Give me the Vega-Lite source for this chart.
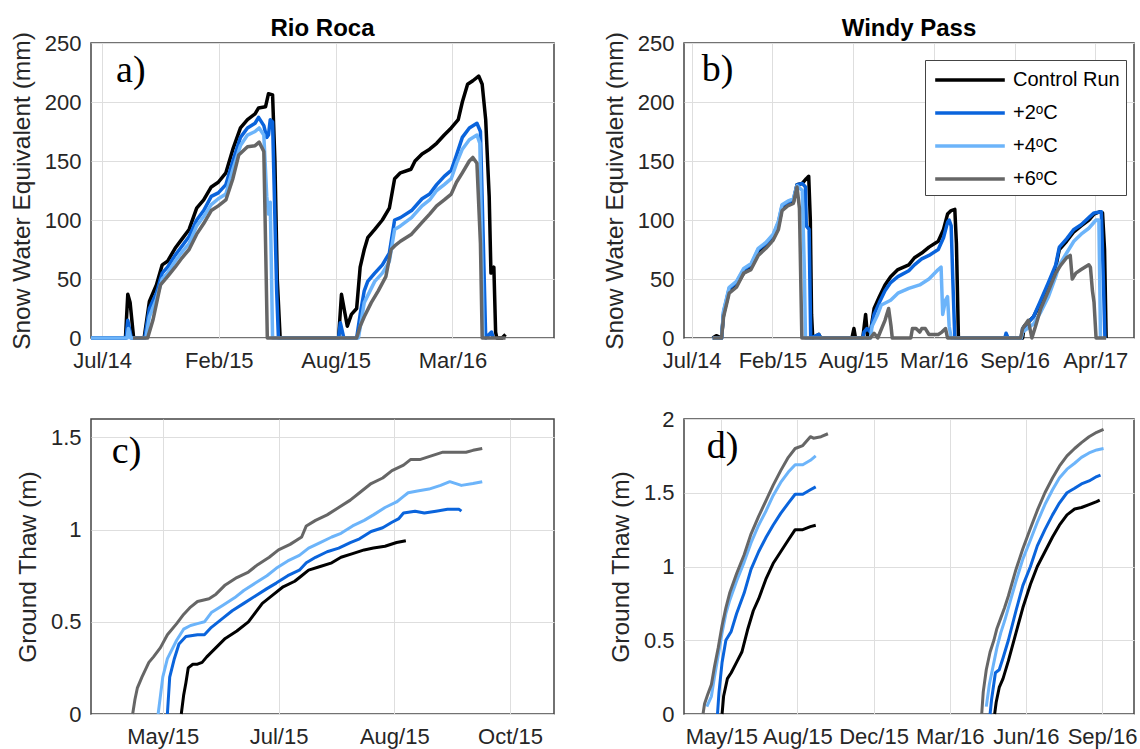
{
  "$schema": "https://vega.github.io/schema/vega-lite/v6.json",
  "background": "white",
  "padding": {"left": 8, "top": 15, "right": 2, "bottom": 2},
  "config": {
    "font": "Liberation Sans",
    "view": {"stroke": "#444444", "strokeWidth": 1.5},
    "axis": {"labelFontSize": 22, "labelColor": "#262626", "titleFontSize": 24.5, "titleColor": "#262626", "titleFontWeight": "normal", "grid": true, "gridColor": "#dedede", "gridWidth": 1, "domain": false, "ticks": false, "labelFlush": false, "labelOverlap": false},
    "axisX": {"labelPadding": 12},
    "axisY": {"labelPadding": 10, "titlePadding": 10},
    "title": {"fontSize": 24, "fontWeight": "bold", "color": "#000000", "offset": -9},
    "line": {"strokeWidth": 3.5, "strokeJoin": "round"}
  },
  "datasets": {
    "a": [
      {"s":"Control Run","d":"2014-07-01","v":0},{"s":"Control Run","d":"2014-08-29","v":0},{"s":"Control Run","d":"2014-09-02","v":37},{"s":"Control Run","d":"2014-09-06","v":30},{"s":"Control Run","d":"2014-09-12","v":0},{"s":"Control Run","d":"2014-09-30","v":0},{"s":"Control Run","d":"2014-10-09","v":31},{"s":"Control Run","d":"2014-10-21","v":45},{"s":"Control Run","d":"2014-10-31","v":62},{"s":"Control Run","d":"2014-11-09","v":65},{"s":"Control Run","d":"2014-11-22","v":76},{"s":"Control Run","d":"2014-12-04","v":84},{"s":"Control Run","d":"2014-12-16","v":92},{"s":"Control Run","d":"2014-12-29","v":110},{"s":"Control Run","d":"2015-01-10","v":117},{"s":"Control Run","d":"2015-01-23","v":128},{"s":"Control Run","d":"2015-02-04","v":132},{"s":"Control Run","d":"2015-02-17","v":140},{"s":"Control Run","d":"2015-03-01","v":160},{"s":"Control Run","d":"2015-03-14","v":178},{"s":"Control Run","d":"2015-03-26","v":185},{"s":"Control Run","d":"2015-04-08","v":190},{"s":"Control Run","d":"2015-04-14","v":195},{"s":"Control Run","d":"2015-04-26","v":196},{"s":"Control Run","d":"2015-05-01","v":207},{"s":"Control Run","d":"2015-05-08","v":206},{"s":"Control Run","d":"2015-05-12","v":150},{"s":"Control Run","d":"2015-05-16","v":50},{"s":"Control Run","d":"2015-05-21","v":0},{"s":"Control Run","d":"2015-08-29","v":0},{"s":"Control Run","d":"2015-09-03","v":37},{"s":"Control Run","d":"2015-09-13","v":10},{"s":"Control Run","d":"2015-09-20","v":20},{"s":"Control Run","d":"2015-09-29","v":25},{"s":"Control Run","d":"2015-10-05","v":60},{"s":"Control Run","d":"2015-10-12","v":75},{"s":"Control Run","d":"2015-10-18","v":85},{"s":"Control Run","d":"2015-10-30","v":92},{"s":"Control Run","d":"2015-11-12","v":100},{"s":"Control Run","d":"2015-11-24","v":110},{"s":"Control Run","d":"2015-12-03","v":135},{"s":"Control Run","d":"2015-12-13","v":140},{"s":"Control Run","d":"2015-12-31","v":143},{"s":"Control Run","d":"2016-01-07","v":150},{"s":"Control Run","d":"2016-01-19","v":156},{"s":"Control Run","d":"2016-02-01","v":160},{"s":"Control Run","d":"2016-02-13","v":165},{"s":"Control Run","d":"2016-02-26","v":172},{"s":"Control Run","d":"2016-03-09","v":178},{"s":"Control Run","d":"2016-03-21","v":185},{"s":"Control Run","d":"2016-03-28","v":200},{"s":"Control Run","d":"2016-04-06","v":215},{"s":"Control Run","d":"2016-04-15","v":218},{"s":"Control Run","d":"2016-04-25","v":222},{"s":"Control Run","d":"2016-05-01","v":215},{"s":"Control Run","d":"2016-05-07","v":185},{"s":"Control Run","d":"2016-05-13","v":120},{"s":"Control Run","d":"2016-05-16","v":55},{"s":"Control Run","d":"2016-05-21","v":60},{"s":"Control Run","d":"2016-05-24","v":5},{"s":"Control Run","d":"2016-05-26","v":0},{"s":"Control Run","d":"2016-06-04","v":0},{"s":"Control Run","d":"2016-06-10","v":3},
      {"s":"+2ᵒC","d":"2014-07-01","v":0},{"s":"+2ᵒC","d":"2014-08-30","v":0},{"s":"+2ᵒC","d":"2014-09-02","v":15},{"s":"+2ᵒC","d":"2014-09-08","v":0},{"s":"+2ᵒC","d":"2014-10-01","v":0},{"s":"+2ᵒC","d":"2014-10-09","v":25},{"s":"+2ᵒC","d":"2014-10-21","v":38},{"s":"+2ᵒC","d":"2014-10-31","v":55},{"s":"+2ᵒC","d":"2014-11-09","v":60},{"s":"+2ᵒC","d":"2014-11-22","v":70},{"s":"+2ᵒC","d":"2014-12-04","v":78},{"s":"+2ᵒC","d":"2014-12-16","v":86},{"s":"+2ᵒC","d":"2014-12-29","v":100},{"s":"+2ᵒC","d":"2015-01-10","v":108},{"s":"+2ᵒC","d":"2015-01-23","v":120},{"s":"+2ᵒC","d":"2015-02-04","v":123},{"s":"+2ᵒC","d":"2015-02-17","v":130},{"s":"+2ᵒC","d":"2015-03-01","v":150},{"s":"+2ᵒC","d":"2015-03-14","v":170},{"s":"+2ᵒC","d":"2015-03-26","v":178},{"s":"+2ᵒC","d":"2015-04-08","v":182},{"s":"+2ᵒC","d":"2015-04-14","v":187},{"s":"+2ᵒC","d":"2015-04-23","v":180},{"s":"+2ᵒC","d":"2015-04-28","v":170},{"s":"+2ᵒC","d":"2015-05-01","v":172},{"s":"+2ᵒC","d":"2015-05-04","v":185},{"s":"+2ᵒC","d":"2015-05-08","v":183},{"s":"+2ᵒC","d":"2015-05-15","v":40},{"s":"+2ᵒC","d":"2015-05-18","v":0},{"s":"+2ᵒC","d":"2015-08-29","v":0},{"s":"+2ᵒC","d":"2015-09-01","v":13},{"s":"+2ᵒC","d":"2015-09-07","v":0},{"s":"+2ᵒC","d":"2015-09-29","v":0},{"s":"+2ᵒC","d":"2015-10-05","v":20},{"s":"+2ᵒC","d":"2015-10-12","v":40},{"s":"+2ᵒC","d":"2015-10-18","v":48},{"s":"+2ᵒC","d":"2015-10-30","v":55},{"s":"+2ᵒC","d":"2015-11-12","v":62},{"s":"+2ᵒC","d":"2015-11-24","v":72},{"s":"+2ᵒC","d":"2015-12-03","v":100},{"s":"+2ᵒC","d":"2015-12-13","v":102},{"s":"+2ᵒC","d":"2016-01-01","v":108},{"s":"+2ᵒC","d":"2016-01-19","v":118},{"s":"+2ᵒC","d":"2016-02-01","v":122},{"s":"+2ᵒC","d":"2016-02-13","v":130},{"s":"+2ᵒC","d":"2016-02-26","v":137},{"s":"+2ᵒC","d":"2016-03-09","v":142},{"s":"+2ᵒC","d":"2016-03-18","v":155},{"s":"+2ᵒC","d":"2016-03-28","v":170},{"s":"+2ᵒC","d":"2016-04-09","v":178},{"s":"+2ᵒC","d":"2016-04-22","v":182},{"s":"+2ᵒC","d":"2016-04-28","v":175},{"s":"+2ᵒC","d":"2016-05-04","v":60},{"s":"+2ᵒC","d":"2016-05-07","v":0},{"s":"+2ᵒC","d":"2016-05-17","v":5},{"s":"+2ᵒC","d":"2016-05-20","v":0},
      {"s":"+4ᵒC","d":"2014-07-01","v":0},{"s":"+4ᵒC","d":"2014-09-01","v":0},{"s":"+4ᵒC","d":"2014-09-03","v":8},{"s":"+4ᵒC","d":"2014-09-07","v":0},{"s":"+4ᵒC","d":"2014-10-03","v":0},{"s":"+4ᵒC","d":"2014-10-09","v":18},{"s":"+4ᵒC","d":"2014-10-21","v":33},{"s":"+4ᵒC","d":"2014-10-31","v":50},{"s":"+4ᵒC","d":"2014-11-09","v":55},{"s":"+4ᵒC","d":"2014-11-22","v":65},{"s":"+4ᵒC","d":"2014-12-04","v":73},{"s":"+4ᵒC","d":"2014-12-16","v":80},{"s":"+4ᵒC","d":"2014-12-29","v":95},{"s":"+4ᵒC","d":"2015-01-10","v":103},{"s":"+4ᵒC","d":"2015-01-23","v":113},{"s":"+4ᵒC","d":"2015-02-04","v":118},{"s":"+4ᵒC","d":"2015-02-17","v":122},{"s":"+4ᵒC","d":"2015-03-01","v":143},{"s":"+4ᵒC","d":"2015-03-14","v":163},{"s":"+4ᵒC","d":"2015-03-26","v":172},{"s":"+4ᵒC","d":"2015-04-08","v":175},{"s":"+4ᵒC","d":"2015-04-15","v":178},{"s":"+4ᵒC","d":"2015-04-23","v":172},{"s":"+4ᵒC","d":"2015-04-28","v":120},{"s":"+4ᵒC","d":"2015-05-01","v":105},{"s":"+4ᵒC","d":"2015-05-04","v":115},{"s":"+4ᵒC","d":"2015-05-08","v":0},{"s":"+4ᵒC","d":"2015-08-29","v":0},{"s":"+4ᵒC","d":"2015-10-02","v":0},{"s":"+4ᵒC","d":"2015-10-12","v":30},{"s":"+4ᵒC","d":"2015-10-30","v":48},{"s":"+4ᵒC","d":"2015-11-12","v":55},{"s":"+4ᵒC","d":"2015-11-24","v":65},{"s":"+4ᵒC","d":"2015-12-03","v":92},{"s":"+4ᵒC","d":"2015-12-13","v":95},{"s":"+4ᵒC","d":"2016-01-01","v":102},{"s":"+4ᵒC","d":"2016-01-19","v":112},{"s":"+4ᵒC","d":"2016-02-01","v":117},{"s":"+4ᵒC","d":"2016-02-13","v":125},{"s":"+4ᵒC","d":"2016-02-26","v":130},{"s":"+4ᵒC","d":"2016-03-09","v":135},{"s":"+4ᵒC","d":"2016-03-18","v":148},{"s":"+4ᵒC","d":"2016-03-28","v":160},{"s":"+4ᵒC","d":"2016-04-09","v":168},{"s":"+4ᵒC","d":"2016-04-22","v":172},{"s":"+4ᵒC","d":"2016-04-27","v":165},{"s":"+4ᵒC","d":"2016-05-03","v":0},
      {"s":"+6ᵒC","d":"2014-09-11","v":0},{"s":"+6ᵒC","d":"2014-10-06","v":0},{"s":"+6ᵒC","d":"2014-10-15","v":15},{"s":"+6ᵒC","d":"2014-10-28","v":45},{"s":"+6ᵒC","d":"2014-11-09","v":52},{"s":"+6ᵒC","d":"2014-11-22","v":60},{"s":"+6ᵒC","d":"2014-12-04","v":68},{"s":"+6ᵒC","d":"2014-12-16","v":75},{"s":"+6ᵒC","d":"2014-12-29","v":88},{"s":"+6ᵒC","d":"2015-01-10","v":97},{"s":"+6ᵒC","d":"2015-01-23","v":108},{"s":"+6ᵒC","d":"2015-02-04","v":112},{"s":"+6ᵒC","d":"2015-02-17","v":117},{"s":"+6ᵒC","d":"2015-03-01","v":135},{"s":"+6ᵒC","d":"2015-03-11","v":155},{"s":"+6ᵒC","d":"2015-03-26","v":162},{"s":"+6ᵒC","d":"2015-04-08","v":163},{"s":"+6ᵒC","d":"2015-04-15","v":166},{"s":"+6ᵒC","d":"2015-04-23","v":158},{"s":"+6ᵒC","d":"2015-04-26","v":80},{"s":"+6ᵒC","d":"2015-04-29","v":0},{"s":"+6ᵒC","d":"2015-09-29","v":0},{"s":"+6ᵒC","d":"2015-10-05","v":10},{"s":"+6ᵒC","d":"2015-10-12","v":18},{"s":"+6ᵒC","d":"2015-10-24","v":30},{"s":"+6ᵒC","d":"2015-11-05","v":40},{"s":"+6ᵒC","d":"2015-11-18","v":52},{"s":"+6ᵒC","d":"2015-11-27","v":75},{"s":"+6ᵒC","d":"2015-12-03","v":78},{"s":"+6ᵒC","d":"2015-12-13","v":82},{"s":"+6ᵒC","d":"2016-01-01","v":88},{"s":"+6ᵒC","d":"2016-01-19","v":98},{"s":"+6ᵒC","d":"2016-02-01","v":105},{"s":"+6ᵒC","d":"2016-02-13","v":112},{"s":"+6ᵒC","d":"2016-02-26","v":117},{"s":"+6ᵒC","d":"2016-03-09","v":122},{"s":"+6ᵒC","d":"2016-03-18","v":132},{"s":"+6ᵒC","d":"2016-03-28","v":140},{"s":"+6ᵒC","d":"2016-04-09","v":150},{"s":"+6ᵒC","d":"2016-04-15","v":153},{"s":"+6ᵒC","d":"2016-04-22","v":148},{"s":"+6ᵒC","d":"2016-04-28","v":80},{"s":"+6ᵒC","d":"2016-05-01","v":0},{"s":"+6ᵒC","d":"2016-06-10","v":0}
    ],
    "b": [
      {"s":"Control Run","d":"2014-09-10","v":0},{"s":"Control Run","d":"2014-09-19","v":2},{"s":"Control Run","d":"2014-10-02","v":0},{"s":"Control Run","d":"2014-10-07","v":20},{"s":"Control Run","d":"2014-10-21","v":40},{"s":"Control Run","d":"2014-11-08","v":45},{"s":"Control Run","d":"2014-11-26","v":55},{"s":"Control Run","d":"2014-12-14","v":60},{"s":"Control Run","d":"2015-01-01","v":72},{"s":"Control Run","d":"2015-01-20","v":78},{"s":"Control Run","d":"2015-02-07","v":85},{"s":"Control Run","d":"2015-02-20","v":95},{"s":"Control Run","d":"2015-03-01","v":110},{"s":"Control Run","d":"2015-03-15","v":113},{"s":"Control Run","d":"2015-03-29","v":115},{"s":"Control Run","d":"2015-04-07","v":130},{"s":"Control Run","d":"2015-04-20","v":131},{"s":"Control Run","d":"2015-04-30","v":135},{"s":"Control Run","d":"2015-05-06","v":137},{"s":"Control Run","d":"2015-05-10","v":100},{"s":"Control Run","d":"2015-05-13","v":20},{"s":"Control Run","d":"2015-05-16","v":0},{"s":"Control Run","d":"2015-05-31","v":3},{"s":"Control Run","d":"2015-06-05","v":0},{"s":"Control Run","d":"2015-08-21","v":0},{"s":"Control Run","d":"2015-08-26","v":8},{"s":"Control Run","d":"2015-08-30","v":0},{"s":"Control Run","d":"2015-09-17","v":0},{"s":"Control Run","d":"2015-09-24","v":20},{"s":"Control Run","d":"2015-09-29","v":0},{"s":"Control Run","d":"2015-10-06","v":5},{"s":"Control Run","d":"2015-10-15","v":25},{"s":"Control Run","d":"2015-10-28","v":35},{"s":"Control Run","d":"2015-11-11","v":45},{"s":"Control Run","d":"2015-11-25","v":52},{"s":"Control Run","d":"2015-12-13","v":58},{"s":"Control Run","d":"2016-01-09","v":62},{"s":"Control Run","d":"2016-01-23","v":68},{"s":"Control Run","d":"2016-02-10","v":72},{"s":"Control Run","d":"2016-02-28","v":77},{"s":"Control Run","d":"2016-03-22","v":82},{"s":"Control Run","d":"2016-04-04","v":92},{"s":"Control Run","d":"2016-04-14","v":105},{"s":"Control Run","d":"2016-04-23","v":108},{"s":"Control Run","d":"2016-05-02","v":109},{"s":"Control Run","d":"2016-05-06","v":80},{"s":"Control Run","d":"2016-05-11","v":0},{"s":"Control Run","d":"2016-10-17","v":0},{"s":"Control Run","d":"2016-10-21","v":10},{"s":"Control Run","d":"2016-11-13","v":18},{"s":"Control Run","d":"2016-12-01","v":30},{"s":"Control Run","d":"2016-12-20","v":45},{"s":"Control Run","d":"2017-01-07","v":60},{"s":"Control Run","d":"2017-01-16","v":75},{"s":"Control Run","d":"2017-02-03","v":82},{"s":"Control Run","d":"2017-02-21","v":90},{"s":"Control Run","d":"2017-03-11","v":95},{"s":"Control Run","d":"2017-03-30","v":100},{"s":"Control Run","d":"2017-04-12","v":105},{"s":"Control Run","d":"2017-04-26","v":107},{"s":"Control Run","d":"2017-05-03","v":106},{"s":"Control Run","d":"2017-05-08","v":75},{"s":"Control Run","d":"2017-05-12","v":0},
      {"s":"+2ᵒC","d":"2014-09-10","v":0},{"s":"+2ᵒC","d":"2014-10-02","v":0},{"s":"+2ᵒC","d":"2014-10-07","v":22},{"s":"+2ᵒC","d":"2014-10-21","v":42},{"s":"+2ᵒC","d":"2014-11-08","v":47},{"s":"+2ᵒC","d":"2014-11-26","v":58},{"s":"+2ᵒC","d":"2014-12-14","v":62},{"s":"+2ᵒC","d":"2015-01-01","v":75},{"s":"+2ᵒC","d":"2015-01-20","v":80},{"s":"+2ᵒC","d":"2015-02-07","v":87},{"s":"+2ᵒC","d":"2015-02-20","v":98},{"s":"+2ᵒC","d":"2015-03-01","v":112},{"s":"+2ᵒC","d":"2015-03-15","v":115},{"s":"+2ᵒC","d":"2015-03-29","v":117},{"s":"+2ᵒC","d":"2015-04-07","v":130},{"s":"+2ᵒC","d":"2015-04-20","v":131},{"s":"+2ᵒC","d":"2015-04-28","v":128},{"s":"+2ᵒC","d":"2015-04-30","v":95},{"s":"+2ᵒC","d":"2015-05-07","v":92},{"s":"+2ᵒC","d":"2015-05-11","v":0},{"s":"+2ᵒC","d":"2015-05-31","v":3},{"s":"+2ᵒC","d":"2015-06-05","v":0},{"s":"+2ᵒC","d":"2015-09-17","v":0},{"s":"+2ᵒC","d":"2015-09-20","v":5},{"s":"+2ᵒC","d":"2015-09-27","v":8},{"s":"+2ᵒC","d":"2015-10-06","v":5},{"s":"+2ᵒC","d":"2015-10-15","v":20},{"s":"+2ᵒC","d":"2015-10-28","v":30},{"s":"+2ᵒC","d":"2015-11-11","v":40},{"s":"+2ᵒC","d":"2015-11-25","v":47},{"s":"+2ᵒC","d":"2015-12-13","v":52},{"s":"+2ᵒC","d":"2016-01-09","v":57},{"s":"+2ᵒC","d":"2016-01-23","v":62},{"s":"+2ᵒC","d":"2016-02-10","v":67},{"s":"+2ᵒC","d":"2016-02-28","v":70},{"s":"+2ᵒC","d":"2016-03-22","v":75},{"s":"+2ᵒC","d":"2016-04-04","v":85},{"s":"+2ᵒC","d":"2016-04-14","v":98},{"s":"+2ᵒC","d":"2016-04-18","v":100},{"s":"+2ᵒC","d":"2016-04-23","v":95},{"s":"+2ᵒC","d":"2016-04-27","v":50},{"s":"+2ᵒC","d":"2016-05-02","v":0},{"s":"+2ᵒC","d":"2016-09-03","v":0},{"s":"+2ᵒC","d":"2016-09-06","v":4},{"s":"+2ᵒC","d":"2016-09-11","v":0},{"s":"+2ᵒC","d":"2016-10-13","v":0},{"s":"+2ᵒC","d":"2016-10-17","v":8},{"s":"+2ᵒC","d":"2016-11-13","v":18},{"s":"+2ᵒC","d":"2016-12-01","v":32},{"s":"+2ᵒC","d":"2016-12-20","v":47},{"s":"+2ᵒC","d":"2017-01-07","v":62},{"s":"+2ᵒC","d":"2017-01-16","v":77},{"s":"+2ᵒC","d":"2017-02-03","v":84},{"s":"+2ᵒC","d":"2017-02-21","v":92},{"s":"+2ᵒC","d":"2017-03-11","v":96},{"s":"+2ᵒC","d":"2017-03-30","v":102},{"s":"+2ᵒC","d":"2017-04-12","v":106},{"s":"+2ᵒC","d":"2017-04-30","v":107},{"s":"+2ᵒC","d":"2017-05-05","v":50},{"s":"+2ᵒC","d":"2017-05-09","v":0},
      {"s":"+4ᵒC","d":"2014-09-10","v":0},{"s":"+4ᵒC","d":"2014-10-02","v":0},{"s":"+4ᵒC","d":"2014-10-07","v":23},{"s":"+4ᵒC","d":"2014-10-21","v":43},{"s":"+4ᵒC","d":"2014-11-08","v":48},{"s":"+4ᵒC","d":"2014-11-26","v":59},{"s":"+4ᵒC","d":"2014-12-14","v":63},{"s":"+4ᵒC","d":"2015-01-01","v":76},{"s":"+4ᵒC","d":"2015-01-20","v":81},{"s":"+4ᵒC","d":"2015-02-07","v":88},{"s":"+4ᵒC","d":"2015-02-20","v":99},{"s":"+4ᵒC","d":"2015-03-01","v":113},{"s":"+4ᵒC","d":"2015-03-15","v":116},{"s":"+4ᵒC","d":"2015-03-29","v":118},{"s":"+4ᵒC","d":"2015-04-07","v":129},{"s":"+4ᵒC","d":"2015-04-11","v":128},{"s":"+4ᵒC","d":"2015-04-20","v":125},{"s":"+4ᵒC","d":"2015-04-25","v":60},{"s":"+4ᵒC","d":"2015-04-28","v":0},{"s":"+4ᵒC","d":"2015-10-06","v":0},{"s":"+4ᵒC","d":"2015-10-10","v":10},{"s":"+4ᵒC","d":"2015-10-24","v":20},{"s":"+4ᵒC","d":"2015-11-02","v":28},{"s":"+4ᵒC","d":"2015-11-25","v":32},{"s":"+4ᵒC","d":"2015-12-13","v":38},{"s":"+4ᵒC","d":"2016-01-09","v":42},{"s":"+4ᵒC","d":"2016-02-05","v":45},{"s":"+4ᵒC","d":"2016-02-28","v":50},{"s":"+4ᵒC","d":"2016-03-22","v":58},{"s":"+4ᵒC","d":"2016-03-29","v":60},{"s":"+4ᵒC","d":"2016-04-02","v":20},{"s":"+4ᵒC","d":"2016-04-09","v":32},{"s":"+4ᵒC","d":"2016-04-14","v":35},{"s":"+4ᵒC","d":"2016-04-18","v":10},{"s":"+4ᵒC","d":"2016-04-23","v":0},{"s":"+4ᵒC","d":"2016-10-14","v":0},{"s":"+4ᵒC","d":"2016-10-17","v":5},{"s":"+4ᵒC","d":"2016-11-13","v":12},{"s":"+4ᵒC","d":"2016-12-01","v":22},{"s":"+4ᵒC","d":"2016-12-20","v":35},{"s":"+4ᵒC","d":"2017-01-07","v":52},{"s":"+4ᵒC","d":"2017-01-16","v":62},{"s":"+4ᵒC","d":"2017-02-03","v":72},{"s":"+4ᵒC","d":"2017-02-21","v":82},{"s":"+4ᵒC","d":"2017-03-11","v":88},{"s":"+4ᵒC","d":"2017-03-30","v":93},{"s":"+4ᵒC","d":"2017-04-17","v":100},{"s":"+4ᵒC","d":"2017-04-24","v":100},{"s":"+4ᵒC","d":"2017-04-28","v":0},
      {"s":"+6ᵒC","d":"2014-09-10","v":0},{"s":"+6ᵒC","d":"2014-10-02","v":0},{"s":"+6ᵒC","d":"2014-10-07","v":18},{"s":"+6ᵒC","d":"2014-10-21","v":38},{"s":"+6ᵒC","d":"2014-11-08","v":43},{"s":"+6ᵒC","d":"2014-11-26","v":55},{"s":"+6ᵒC","d":"2014-12-14","v":58},{"s":"+6ᵒC","d":"2015-01-01","v":70},{"s":"+6ᵒC","d":"2015-01-20","v":76},{"s":"+6ᵒC","d":"2015-02-07","v":83},{"s":"+6ᵒC","d":"2015-02-20","v":92},{"s":"+6ᵒC","d":"2015-03-01","v":108},{"s":"+6ᵒC","d":"2015-03-15","v":112},{"s":"+6ᵒC","d":"2015-03-29","v":114},{"s":"+6ᵒC","d":"2015-04-07","v":128},{"s":"+6ᵒC","d":"2015-04-13","v":110},{"s":"+6ᵒC","d":"2015-04-19","v":0},{"s":"+6ᵒC","d":"2015-10-06","v":0},{"s":"+6ᵒC","d":"2015-10-15","v":4},{"s":"+6ᵒC","d":"2015-10-24","v":0},{"s":"+6ᵒC","d":"2015-11-11","v":15},{"s":"+6ᵒC","d":"2015-11-20","v":25},{"s":"+6ᵒC","d":"2015-11-26","v":10},{"s":"+6ᵒC","d":"2015-11-29","v":0},{"s":"+6ᵒC","d":"2016-01-14","v":0},{"s":"+6ᵒC","d":"2016-01-18","v":8},{"s":"+6ᵒC","d":"2016-01-27","v":8},{"s":"+6ᵒC","d":"2016-02-05","v":5},{"s":"+6ᵒC","d":"2016-02-10","v":8},{"s":"+6ᵒC","d":"2016-02-19","v":8},{"s":"+6ᵒC","d":"2016-02-28","v":3},{"s":"+6ᵒC","d":"2016-03-22","v":3},{"s":"+6ᵒC","d":"2016-03-31","v":5},{"s":"+6ᵒC","d":"2016-04-09","v":8},{"s":"+6ᵒC","d":"2016-04-14","v":0},{"s":"+6ᵒC","d":"2016-10-12","v":0},{"s":"+6ᵒC","d":"2016-10-17","v":8},{"s":"+6ᵒC","d":"2016-10-31","v":15},{"s":"+6ᵒC","d":"2016-11-09","v":0},{"s":"+6ᵒC","d":"2016-11-18","v":10},{"s":"+6ᵒC","d":"2016-12-01","v":25},{"s":"+6ᵒC","d":"2016-12-20","v":40},{"s":"+6ᵒC","d":"2017-01-07","v":55},{"s":"+6ᵒC","d":"2017-01-20","v":62},{"s":"+6ᵒC","d":"2017-02-03","v":68},{"s":"+6ᵒC","d":"2017-02-12","v":70},{"s":"+6ᵒC","d":"2017-02-17","v":50},{"s":"+6ᵒC","d":"2017-02-26","v":55},{"s":"+6ᵒC","d":"2017-03-11","v":58},{"s":"+6ᵒC","d":"2017-03-30","v":62},{"s":"+6ᵒC","d":"2017-04-03","v":60},{"s":"+6ᵒC","d":"2017-04-08","v":40},{"s":"+6ᵒC","d":"2017-04-12","v":30},{"s":"+6ᵒC","d":"2017-04-17","v":0},{"s":"+6ᵒC","d":"2017-05-12","v":0}
    ],
    "c": [
      {"s":"Control Run","d":"2015-05-24","v":0},{"s":"Control Run","d":"2015-05-25","v":0.1},{"s":"Control Run","d":"2015-05-26","v":0.17},{"s":"Control Run","d":"2015-05-27","v":0.25},{"s":"Control Run","d":"2015-05-29","v":0.27},{"s":"Control Run","d":"2015-05-31","v":0.27},{"s":"Control Run","d":"2015-06-02","v":0.28},{"s":"Control Run","d":"2015-06-04","v":0.31},{"s":"Control Run","d":"2015-06-08","v":0.36},{"s":"Control Run","d":"2015-06-12","v":0.41},{"s":"Control Run","d":"2015-06-17","v":0.45},{"s":"Control Run","d":"2015-06-22","v":0.5},{"s":"Control Run","d":"2015-06-25","v":0.55},{"s":"Control Run","d":"2015-06-28","v":0.6},{"s":"Control Run","d":"2015-07-03","v":0.65},{"s":"Control Run","d":"2015-07-07","v":0.69},{"s":"Control Run","d":"2015-07-12","v":0.72},{"s":"Control Run","d":"2015-07-15","v":0.75},{"s":"Control Run","d":"2015-07-18","v":0.78},{"s":"Control Run","d":"2015-07-23","v":0.8},{"s":"Control Run","d":"2015-07-28","v":0.82},{"s":"Control Run","d":"2015-08-01","v":0.85},{"s":"Control Run","d":"2015-08-06","v":0.87},{"s":"Control Run","d":"2015-08-11","v":0.89},{"s":"Control Run","d":"2015-08-15","v":0.9},{"s":"Control Run","d":"2015-08-20","v":0.91},{"s":"Control Run","d":"2015-08-25","v":0.93},{"s":"Control Run","d":"2015-08-29","v":0.94},
      {"s":"+2ᵒC","d":"2015-05-18","v":0},{"s":"+2ᵒC","d":"2015-05-19","v":0.2},{"s":"+2ᵒC","d":"2015-05-21","v":0.3},{"s":"+2ᵒC","d":"2015-05-23","v":0.38},{"s":"+2ᵒC","d":"2015-05-26","v":0.42},{"s":"+2ᵒC","d":"2015-05-31","v":0.43},{"s":"+2ᵒC","d":"2015-06-03","v":0.43},{"s":"+2ᵒC","d":"2015-06-06","v":0.47},{"s":"+2ᵒC","d":"2015-06-11","v":0.52},{"s":"+2ᵒC","d":"2015-06-15","v":0.56},{"s":"+2ᵒC","d":"2015-06-20","v":0.6},{"s":"+2ᵒC","d":"2015-06-25","v":0.64},{"s":"+2ᵒC","d":"2015-06-30","v":0.68},{"s":"+2ᵒC","d":"2015-07-04","v":0.71},{"s":"+2ᵒC","d":"2015-07-09","v":0.75},{"s":"+2ᵒC","d":"2015-07-14","v":0.78},{"s":"+2ᵒC","d":"2015-07-17","v":0.82},{"s":"+2ᵒC","d":"2015-07-21","v":0.85},{"s":"+2ᵒC","d":"2015-07-26","v":0.88},{"s":"+2ᵒC","d":"2015-07-31","v":0.9},{"s":"+2ᵒC","d":"2015-08-05","v":0.93},{"s":"+2ᵒC","d":"2015-08-09","v":0.95},{"s":"+2ᵒC","d":"2015-08-14","v":0.99},{"s":"+2ᵒC","d":"2015-08-19","v":1.01},{"s":"+2ᵒC","d":"2015-08-23","v":1.04},{"s":"+2ᵒC","d":"2015-08-26","v":1.06},{"s":"+2ᵒC","d":"2015-08-28","v":1.09},{"s":"+2ᵒC","d":"2015-09-02","v":1.1},{"s":"+2ᵒC","d":"2015-09-06","v":1.09},{"s":"+2ᵒC","d":"2015-09-11","v":1.1},{"s":"+2ᵒC","d":"2015-09-16","v":1.11},{"s":"+2ᵒC","d":"2015-09-21","v":1.11},{"s":"+2ᵒC","d":"2015-09-22","v":1.1},
      {"s":"+4ᵒC","d":"2015-05-14","v":0},{"s":"+4ᵒC","d":"2015-05-15","v":0.1},{"s":"+4ᵒC","d":"2015-05-16","v":0.2},{"s":"+4ᵒC","d":"2015-05-18","v":0.3},{"s":"+4ᵒC","d":"2015-05-22","v":0.4},{"s":"+4ᵒC","d":"2015-05-25","v":0.46},{"s":"+4ᵒC","d":"2015-05-28","v":0.48},{"s":"+4ᵒC","d":"2015-05-31","v":0.49},{"s":"+4ᵒC","d":"2015-06-03","v":0.5},{"s":"+4ᵒC","d":"2015-06-06","v":0.55},{"s":"+4ᵒC","d":"2015-06-11","v":0.59},{"s":"+4ᵒC","d":"2015-06-16","v":0.63},{"s":"+4ᵒC","d":"2015-06-20","v":0.67},{"s":"+4ᵒC","d":"2015-06-25","v":0.71},{"s":"+4ᵒC","d":"2015-06-30","v":0.75},{"s":"+4ᵒC","d":"2015-07-04","v":0.79},{"s":"+4ᵒC","d":"2015-07-09","v":0.83},{"s":"+4ᵒC","d":"2015-07-14","v":0.86},{"s":"+4ᵒC","d":"2015-07-18","v":0.9},{"s":"+4ᵒC","d":"2015-07-23","v":0.93},{"s":"+4ᵒC","d":"2015-07-28","v":0.96},{"s":"+4ᵒC","d":"2015-08-01","v":0.98},{"s":"+4ᵒC","d":"2015-08-06","v":1.02},{"s":"+4ᵒC","d":"2015-08-11","v":1.05},{"s":"+4ᵒC","d":"2015-08-15","v":1.08},{"s":"+4ᵒC","d":"2015-08-20","v":1.12},{"s":"+4ᵒC","d":"2015-08-25","v":1.15},{"s":"+4ᵒC","d":"2015-08-28","v":1.18},{"s":"+4ᵒC","d":"2015-08-30","v":1.2},{"s":"+4ᵒC","d":"2015-09-03","v":1.21},{"s":"+4ᵒC","d":"2015-09-08","v":1.22},{"s":"+4ᵒC","d":"2015-09-13","v":1.24},{"s":"+4ᵒC","d":"2015-09-17","v":1.26},{"s":"+4ᵒC","d":"2015-09-22","v":1.24},{"s":"+4ᵒC","d":"2015-09-27","v":1.25},{"s":"+4ᵒC","d":"2015-10-01","v":1.26},
      {"s":"+6ᵒC","d":"2015-05-03","v":0},{"s":"+6ᵒC","d":"2015-05-04","v":0.08},{"s":"+6ᵒC","d":"2015-05-05","v":0.14},{"s":"+6ᵒC","d":"2015-05-07","v":0.2},{"s":"+6ᵒC","d":"2015-05-10","v":0.28},{"s":"+6ᵒC","d":"2015-05-12","v":0.31},{"s":"+6ᵒC","d":"2015-05-15","v":0.36},{"s":"+6ᵒC","d":"2015-05-18","v":0.43},{"s":"+6ᵒC","d":"2015-05-22","v":0.49},{"s":"+6ᵒC","d":"2015-05-25","v":0.54},{"s":"+6ᵒC","d":"2015-05-28","v":0.58},{"s":"+6ᵒC","d":"2015-05-31","v":0.61},{"s":"+6ᵒC","d":"2015-06-05","v":0.625},{"s":"+6ᵒC","d":"2015-06-08","v":0.65},{"s":"+6ᵒC","d":"2015-06-12","v":0.7},{"s":"+6ᵒC","d":"2015-06-17","v":0.74},{"s":"+6ᵒC","d":"2015-06-22","v":0.77},{"s":"+6ᵒC","d":"2015-06-26","v":0.81},{"s":"+6ᵒC","d":"2015-07-01","v":0.85},{"s":"+6ᵒC","d":"2015-07-05","v":0.89},{"s":"+6ᵒC","d":"2015-07-10","v":0.92},{"s":"+6ᵒC","d":"2015-07-15","v":0.96},{"s":"+6ᵒC","d":"2015-07-17","v":1.02},{"s":"+6ᵒC","d":"2015-07-21","v":1.05},{"s":"+6ᵒC","d":"2015-07-26","v":1.08},{"s":"+6ᵒC","d":"2015-07-31","v":1.12},{"s":"+6ᵒC","d":"2015-08-05","v":1.16},{"s":"+6ᵒC","d":"2015-08-09","v":1.2},{"s":"+6ᵒC","d":"2015-08-14","v":1.25},{"s":"+6ᵒC","d":"2015-08-19","v":1.28},{"s":"+6ᵒC","d":"2015-08-23","v":1.32},{"s":"+6ᵒC","d":"2015-08-28","v":1.35},{"s":"+6ᵒC","d":"2015-08-31","v":1.38},{"s":"+6ᵒC","d":"2015-09-04","v":1.38},{"s":"+6ᵒC","d":"2015-09-09","v":1.4},{"s":"+6ᵒC","d":"2015-09-14","v":1.42},{"s":"+6ᵒC","d":"2015-09-19","v":1.42},{"s":"+6ᵒC","d":"2015-09-24","v":1.42},{"s":"+6ᵒC","d":"2015-09-27","v":1.43},{"s":"+6ᵒC","d":"2015-10-01","v":1.44}
    ],
    "d": [
      {"s":"Control Run","g":1,"d":"2015-05-17","v":0},{"s":"Control Run","g":1,"d":"2015-05-19","v":0.12},{"s":"Control Run","g":1,"d":"2015-05-24","v":0.24},{"s":"Control Run","g":1,"d":"2015-05-29","v":0.28},{"s":"Control Run","g":1,"d":"2015-06-05","v":0.35},{"s":"Control Run","g":1,"d":"2015-06-12","v":0.42},{"s":"Control Run","g":1,"d":"2015-06-20","v":0.58},{"s":"Control Run","g":1,"d":"2015-06-27","v":0.7},{"s":"Control Run","g":1,"d":"2015-07-04","v":0.78},{"s":"Control Run","g":1,"d":"2015-07-14","v":0.92},{"s":"Control Run","g":1,"d":"2015-07-23","v":1.02},{"s":"Control Run","g":1,"d":"2015-08-02","v":1.1},{"s":"Control Run","g":1,"d":"2015-08-12","v":1.18},{"s":"Control Run","g":1,"d":"2015-08-21","v":1.25},{"s":"Control Run","g":1,"d":"2015-08-31","v":1.25},{"s":"Control Run","g":1,"d":"2015-09-10","v":1.27},{"s":"Control Run","g":1,"d":"2015-09-17","v":1.28},
      {"s":"Control Run","g":2,"d":"2016-05-09","v":0},{"s":"Control Run","g":2,"d":"2016-05-11","v":0.08},{"s":"Control Run","g":2,"d":"2016-05-15","v":0.18},{"s":"Control Run","g":2,"d":"2016-05-20","v":0.24},{"s":"Control Run","g":2,"d":"2016-05-27","v":0.36},{"s":"Control Run","g":2,"d":"2016-06-06","v":0.55},{"s":"Control Run","g":2,"d":"2016-06-15","v":0.72},{"s":"Control Run","g":2,"d":"2016-06-25","v":0.88},{"s":"Control Run","g":2,"d":"2016-07-04","v":1.0},{"s":"Control Run","g":2,"d":"2016-07-14","v":1.1},{"s":"Control Run","g":2,"d":"2016-07-24","v":1.2},{"s":"Control Run","g":2,"d":"2016-08-02","v":1.28},{"s":"Control Run","g":2,"d":"2016-08-12","v":1.35},{"s":"Control Run","g":2,"d":"2016-08-22","v":1.39},{"s":"Control Run","g":2,"d":"2016-08-31","v":1.4},{"s":"Control Run","g":2,"d":"2016-09-10","v":1.42},{"s":"Control Run","g":2,"d":"2016-09-20","v":1.44},{"s":"Control Run","g":2,"d":"2016-09-24","v":1.45},
      {"s":"+2ᵒC","g":1,"d":"2015-05-11","v":0},{"s":"+2ᵒC","g":1,"d":"2015-05-13","v":0.15},{"s":"+2ᵒC","g":1,"d":"2015-05-17","v":0.35},{"s":"+2ᵒC","g":1,"d":"2015-05-22","v":0.5},{"s":"+2ᵒC","g":1,"d":"2015-05-29","v":0.56},{"s":"+2ᵒC","g":1,"d":"2015-06-05","v":0.68},{"s":"+2ᵒC","g":1,"d":"2015-06-15","v":0.82},{"s":"+2ᵒC","g":1,"d":"2015-06-24","v":0.98},{"s":"+2ᵒC","g":1,"d":"2015-07-04","v":1.1},{"s":"+2ᵒC","g":1,"d":"2015-07-14","v":1.2},{"s":"+2ᵒC","g":1,"d":"2015-07-23","v":1.28},{"s":"+2ᵒC","g":1,"d":"2015-08-02","v":1.36},{"s":"+2ᵒC","g":1,"d":"2015-08-12","v":1.43},{"s":"+2ᵒC","g":1,"d":"2015-08-21","v":1.49},{"s":"+2ᵒC","g":1,"d":"2015-08-31","v":1.49},{"s":"+2ᵒC","g":1,"d":"2015-09-10","v":1.52},{"s":"+2ᵒC","g":1,"d":"2015-09-17","v":1.54},
      {"s":"+2ᵒC","g":2,"d":"2016-05-03","v":0},{"s":"+2ᵒC","g":2,"d":"2016-05-05","v":0.1},{"s":"+2ᵒC","g":2,"d":"2016-05-10","v":0.28},{"s":"+2ᵒC","g":2,"d":"2016-05-15","v":0.3},{"s":"+2ᵒC","g":2,"d":"2016-05-20","v":0.38},{"s":"+2ᵒC","g":2,"d":"2016-05-27","v":0.5},{"s":"+2ᵒC","g":2,"d":"2016-06-06","v":0.7},{"s":"+2ᵒC","g":2,"d":"2016-06-15","v":0.87},{"s":"+2ᵒC","g":2,"d":"2016-06-25","v":1.0},{"s":"+2ᵒC","g":2,"d":"2016-07-04","v":1.14},{"s":"+2ᵒC","g":2,"d":"2016-07-14","v":1.25},{"s":"+2ᵒC","g":2,"d":"2016-07-24","v":1.35},{"s":"+2ᵒC","g":2,"d":"2016-08-02","v":1.43},{"s":"+2ᵒC","g":2,"d":"2016-08-12","v":1.5},{"s":"+2ᵒC","g":2,"d":"2016-08-22","v":1.53},{"s":"+2ᵒC","g":2,"d":"2016-08-31","v":1.56},{"s":"+2ᵒC","g":2,"d":"2016-09-10","v":1.58},{"s":"+2ᵒC","g":2,"d":"2016-09-20","v":1.61},{"s":"+2ᵒC","g":2,"d":"2016-09-25","v":1.62},
      {"s":"+4ᵒC","g":1,"d":"2015-04-27","v":0.05},{"s":"+4ᵒC","g":1,"d":"2015-05-03","v":0.12},{"s":"+4ᵒC","g":1,"d":"2015-05-07","v":0.25},{"s":"+4ᵒC","g":1,"d":"2015-05-12","v":0.4},{"s":"+4ᵒC","g":1,"d":"2015-05-17","v":0.55},{"s":"+4ᵒC","g":1,"d":"2015-05-22","v":0.68},{"s":"+4ᵒC","g":1,"d":"2015-05-27","v":0.77},{"s":"+4ᵒC","g":1,"d":"2015-06-05","v":0.9},{"s":"+4ᵒC","g":1,"d":"2015-06-15","v":1.03},{"s":"+4ᵒC","g":1,"d":"2015-06-24","v":1.16},{"s":"+4ᵒC","g":1,"d":"2015-07-04","v":1.28},{"s":"+4ᵒC","g":1,"d":"2015-07-14","v":1.38},{"s":"+4ᵒC","g":1,"d":"2015-07-23","v":1.48},{"s":"+4ᵒC","g":1,"d":"2015-08-02","v":1.57},{"s":"+4ᵒC","g":1,"d":"2015-08-12","v":1.64},{"s":"+4ᵒC","g":1,"d":"2015-08-21","v":1.69},{"s":"+4ᵒC","g":1,"d":"2015-08-31","v":1.69},{"s":"+4ᵒC","g":1,"d":"2015-09-10","v":1.72},{"s":"+4ᵒC","g":1,"d":"2015-09-17","v":1.75},
      {"s":"+4ᵒC","g":2,"d":"2016-04-28","v":0.05},{"s":"+4ᵒC","g":2,"d":"2016-05-02","v":0.2},{"s":"+4ᵒC","g":2,"d":"2016-05-08","v":0.35},{"s":"+4ᵒC","g":2,"d":"2016-05-12","v":0.45},{"s":"+4ᵒC","g":2,"d":"2016-05-17","v":0.55},{"s":"+4ᵒC","g":2,"d":"2016-05-22","v":0.63},{"s":"+4ᵒC","g":2,"d":"2016-05-27","v":0.72},{"s":"+4ᵒC","g":2,"d":"2016-06-06","v":0.9},{"s":"+4ᵒC","g":2,"d":"2016-06-15","v":1.05},{"s":"+4ᵒC","g":2,"d":"2016-06-25","v":1.18},{"s":"+4ᵒC","g":2,"d":"2016-07-04","v":1.3},{"s":"+4ᵒC","g":2,"d":"2016-07-14","v":1.42},{"s":"+4ᵒC","g":2,"d":"2016-07-24","v":1.52},{"s":"+4ᵒC","g":2,"d":"2016-08-02","v":1.6},{"s":"+4ᵒC","g":2,"d":"2016-08-12","v":1.66},{"s":"+4ᵒC","g":2,"d":"2016-08-22","v":1.7},{"s":"+4ᵒC","g":2,"d":"2016-08-31","v":1.74},{"s":"+4ᵒC","g":2,"d":"2016-09-10","v":1.77},{"s":"+4ᵒC","g":2,"d":"2016-09-20","v":1.79},{"s":"+4ᵒC","g":2,"d":"2016-09-29","v":1.8},
      {"s":"+6ᵒC","g":1,"d":"2015-04-22","v":0},{"s":"+6ᵒC","g":1,"d":"2015-04-24","v":0.07},{"s":"+6ᵒC","g":1,"d":"2015-04-28","v":0.13},{"s":"+6ᵒC","g":1,"d":"2015-05-03","v":0.2},{"s":"+6ᵒC","g":1,"d":"2015-05-07","v":0.32},{"s":"+6ᵒC","g":1,"d":"2015-05-12","v":0.45},{"s":"+6ᵒC","g":1,"d":"2015-05-17","v":0.6},{"s":"+6ᵒC","g":1,"d":"2015-05-22","v":0.72},{"s":"+6ᵒC","g":1,"d":"2015-05-27","v":0.82},{"s":"+6ᵒC","g":1,"d":"2015-06-05","v":0.95},{"s":"+6ᵒC","g":1,"d":"2015-06-15","v":1.08},{"s":"+6ᵒC","g":1,"d":"2015-06-24","v":1.22},{"s":"+6ᵒC","g":1,"d":"2015-07-04","v":1.34},{"s":"+6ᵒC","g":1,"d":"2015-07-14","v":1.45},{"s":"+6ᵒC","g":1,"d":"2015-07-23","v":1.55},{"s":"+6ᵒC","g":1,"d":"2015-08-02","v":1.65},{"s":"+6ᵒC","g":1,"d":"2015-08-12","v":1.74},{"s":"+6ᵒC","g":1,"d":"2015-08-21","v":1.8},{"s":"+6ᵒC","g":1,"d":"2015-08-31","v":1.82},{"s":"+6ᵒC","g":1,"d":"2015-09-10","v":1.88},{"s":"+6ᵒC","g":1,"d":"2015-09-14","v":1.87},{"s":"+6ᵒC","g":1,"d":"2015-09-24","v":1.88},{"s":"+6ᵒC","g":1,"d":"2015-10-03","v":1.9},
      {"s":"+6ᵒC","g":2,"d":"2016-04-22","v":0},{"s":"+6ᵒC","g":2,"d":"2016-04-24","v":0.15},{"s":"+6ᵒC","g":2,"d":"2016-04-28","v":0.3},{"s":"+6ᵒC","g":2,"d":"2016-05-03","v":0.42},{"s":"+6ᵒC","g":2,"d":"2016-05-08","v":0.5},{"s":"+6ᵒC","g":2,"d":"2016-05-12","v":0.58},{"s":"+6ᵒC","g":2,"d":"2016-05-17","v":0.65},{"s":"+6ᵒC","g":2,"d":"2016-05-22","v":0.72},{"s":"+6ᵒC","g":2,"d":"2016-05-27","v":0.8},{"s":"+6ᵒC","g":2,"d":"2016-06-06","v":0.98},{"s":"+6ᵒC","g":2,"d":"2016-06-15","v":1.12},{"s":"+6ᵒC","g":2,"d":"2016-06-25","v":1.26},{"s":"+6ᵒC","g":2,"d":"2016-07-04","v":1.38},{"s":"+6ᵒC","g":2,"d":"2016-07-14","v":1.5},{"s":"+6ᵒC","g":2,"d":"2016-07-24","v":1.6},{"s":"+6ᵒC","g":2,"d":"2016-08-02","v":1.68},{"s":"+6ᵒC","g":2,"d":"2016-08-12","v":1.75},{"s":"+6ᵒC","g":2,"d":"2016-08-22","v":1.8},{"s":"+6ᵒC","g":2,"d":"2016-08-31","v":1.84},{"s":"+6ᵒC","g":2,"d":"2016-09-10","v":1.88},{"s":"+6ᵒC","g":2,"d":"2016-09-20","v":1.91},{"s":"+6ᵒC","g":2,"d":"2016-09-29","v":1.93}
    ]
  },
  "columns": 2,
  "spacing": {"row": 81, "column": 130},
  "bounds": "flush",
  "resolve": {"scale": {"color": "independent", "x": "independent", "y": "independent"}, "legend": {"color": "independent"}},
  "concat": [
    {
      "width": 463, "height": 295,
      "title": "Rio Roca",
      "layer": [
        {
          "data": {"name": "a"},
          "mark": {"type": "line"},
          "encoding": {
            "x": {"field": "d", "type": "temporal", "title": null, "scale": {"domain": [{"year": 2014, "month": 7, "date": 1}, {"year": 2016, "month": 9, "date": 1}]}, "axis": {"format": "%b/%y", "values": [{"year": 2014, "month": 7, "date": 20}, {"year": 2015, "month": 2, "date": 5}, {"year": 2015, "month": 8, "date": 24}, {"year": 2016, "month": 3, "date": 11}]}},
            "y": {"field": "v", "type": "quantitative", "title": "Snow Water Equivalent (mm)", "scale": {"domain": [0, 250], "nice": false}, "axis": {"values": [0, 50, 100, 150, 200, 250]}},
            "color": {"field": "s", "type": "nominal", "scale": {"domain": ["Control Run", "+2ᵒC", "+4ᵒC", "+6ᵒC"], "range": ["#000000", "#0a64dc", "#6cb4fa", "#666666"]}, "legend": null}
          }
        },
        {
          "data": {"values": [{"t": "a)", "d": "2014-08-13", "v": 217}]},
          "mark": {"type": "text", "font": "Liberation Serif", "fontSize": 38, "align": "left", "baseline": "alphabetic", "color": "#000000"},
          "encoding": {"x": {"field": "d", "type": "temporal"}, "y": {"field": "v", "type": "quantitative"}, "text": {"field": "t"}}
        }
      ]
    },
    {
      "width": 450, "height": 295,
      "title": "Windy Pass",
      "layer": [
        {
          "data": {"name": "b"},
          "mark": {"type": "line"},
          "encoding": {
            "x": {"field": "d", "type": "temporal", "title": null, "scale": {"domain": [{"year": 2014, "month": 7, "date": 1}, {"year": 2017, "month": 7, "date": 20}]}, "axis": {"format": "%b/%y", "values": [{"year": 2014, "month": 7, "date": 20}, {"year": 2015, "month": 2, "date": 5}, {"year": 2015, "month": 8, "date": 24}, {"year": 2016, "month": 3, "date": 11}, {"year": 2016, "month": 9, "date": 27}, {"year": 2017, "month": 4, "date": 15}]}},
            "y": {"field": "v", "type": "quantitative", "title": "Snow Water Equivalent (mm)", "scale": {"domain": [0, 250], "nice": false}, "axis": {"values": [0, 50, 100, 150, 200, 250]}},
            "color": {"field": "s", "type": "nominal", "scale": {"domain": ["Control Run", "+2ᵒC", "+4ᵒC", "+6ᵒC"], "range": ["#000000", "#0a64dc", "#6cb4fa", "#666666"]},
              "legend": {"title": null, "orient": "none", "legendX": 241, "legendY": 17, "symbolType": "M-2.9,0L2.9,0", "symbolSize": 576, "symbolStrokeWidth": 5, "symbolOffset": 25, "labelOffset": 29, "labelFontSize": 20, "labelColor": "#000000", "labelFont": "Liberation Sans", "strokeColor": "#444444", "fillColor": "#ffffff", "padding": 6, "rowPadding": 9}}
          }
        },
        {
          "data": {"values": [{"t": "b)", "d": "2014-08-14", "v": 218}]},
          "mark": {"type": "text", "font": "Liberation Serif", "fontSize": 38, "align": "left", "baseline": "alphabetic", "color": "#000000"},
          "encoding": {"x": {"field": "d", "type": "temporal"}, "y": {"field": "v", "type": "quantitative"}, "text": {"field": "t"}}
        }
      ]
    },
    {
      "width": 463, "height": 295,
      "layer": [
        {
          "data": {"name": "c"},
          "mark": {"type": "line", "strokeWidth": 3},
          "encoding": {
            "x": {"field": "d", "type": "temporal", "title": null, "scale": {"domain": [{"year": 2015, "month": 4, "date": 15}, {"year": 2015, "month": 11, "date": 1}]}, "axis": {"format": "%b/%y", "values": [{"year": 2015, "month": 5, "date": 16}, {"year": 2015, "month": 7, "date": 5}, {"year": 2015, "month": 8, "date": 24}, {"year": 2015, "month": 10, "date": 13}]}},
            "y": {"field": "v", "type": "quantitative", "title": "Ground Thaw (m)", "scale": {"domain": [0, 1.6], "nice": false}, "axis": {"values": [0, 0.5, 1, 1.5], "format": "~g"}},
            "color": {"field": "s", "type": "nominal", "scale": {"domain": ["Control Run", "+2ᵒC", "+4ᵒC", "+6ᵒC"], "range": ["#000000", "#0a64dc", "#6cb4fa", "#666666"]}, "legend": null}
          }
        },
        {
          "data": {"values": [{"t": "c)", "d": "2015-04-24", "v": 1.36}]},
          "mark": {"type": "text", "font": "Liberation Serif", "fontSize": 38, "align": "left", "baseline": "alphabetic", "color": "#000000"},
          "encoding": {"x": {"field": "d", "type": "temporal"}, "y": {"field": "v", "type": "quantitative"}, "text": {"field": "t"}}
        }
      ]
    },
    {
      "width": 450, "height": 295,
      "layer": [
        {
          "data": {"name": "d"},
          "mark": {"type": "line", "strokeWidth": 3},
          "encoding": {
            "x": {"field": "d", "type": "temporal", "title": null, "scale": {"domain": [{"year": 2015, "month": 3, "date": 28}, {"year": 2016, "month": 11, "date": 8}]}, "axis": {"format": "%b/%y", "values": [{"year": 2015, "month": 5, "date": 16}, {"year": 2015, "month": 8, "date": 24}, {"year": 2015, "month": 12, "date": 2}, {"year": 2016, "month": 3, "date": 11}, {"year": 2016, "month": 6, "date": 19}, {"year": 2016, "month": 9, "date": 27}]}},
            "y": {"field": "v", "type": "quantitative", "title": "Ground Thaw (m)", "scale": {"domain": [0, 2], "nice": false}, "axis": {"values": [0, 0.5, 1, 1.5, 2], "format": "~g"}},
            "color": {"field": "s", "type": "nominal", "scale": {"domain": ["Control Run", "+2ᵒC", "+4ᵒC", "+6ᵒC"], "range": ["#000000", "#0a64dc", "#6cb4fa", "#666666"]}, "legend": null},
            "detail": {"field": "g", "type": "nominal"}
          }
        },
        {
          "data": {"values": [{"t": "d)", "d": "2015-04-27", "v": 1.735}]},
          "mark": {"type": "text", "font": "Liberation Serif", "fontSize": 38, "align": "left", "baseline": "alphabetic", "color": "#000000"},
          "encoding": {"x": {"field": "d", "type": "temporal"}, "y": {"field": "v", "type": "quantitative"}, "text": {"field": "t"}}
        }
      ]
    }
  ]
}
